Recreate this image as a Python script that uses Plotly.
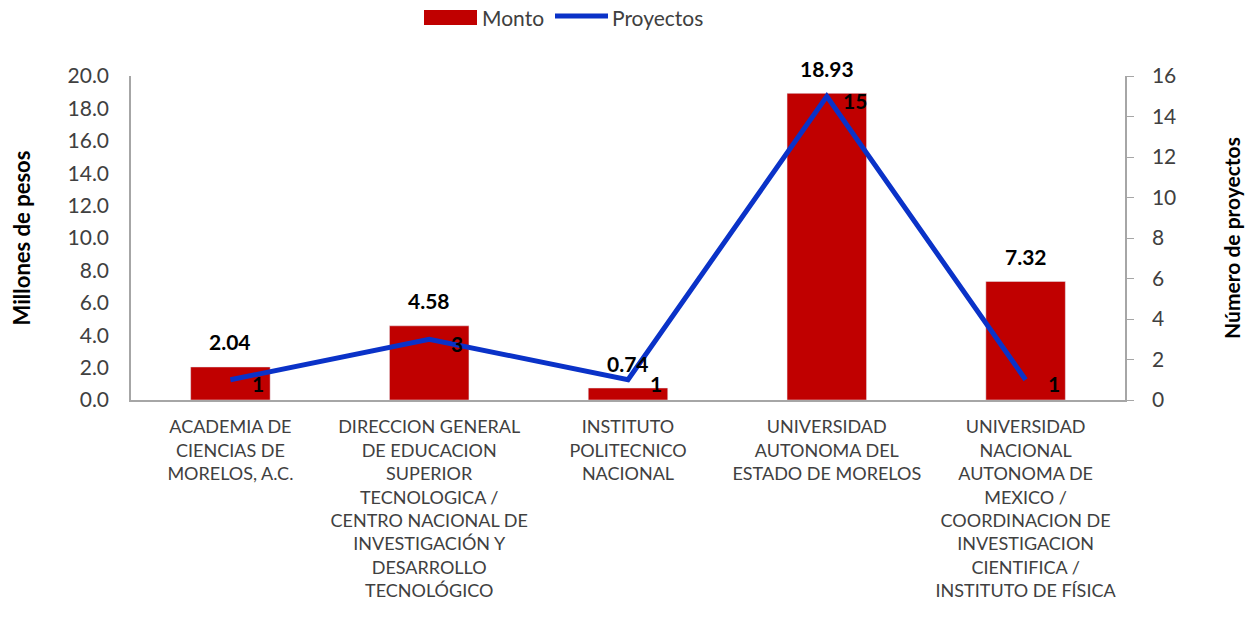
import plotly.graph_objects as go

categories = [
    "ACADEMIA DE<br>CIENCIAS DE<br>MORELOS, A.C.",
    "DIRECCION GENERAL<br>DE EDUCACION<br>SUPERIOR<br>TECNOLOGICA /<br>CENTRO NACIONAL DE<br>INVESTIGACIÓN Y<br>DESARROLLO<br>TECNOLÓGICO",
    "INSTITUTO<br>POLITECNICO<br>NACIONAL",
    "UNIVERSIDAD<br>AUTONOMA DEL<br>ESTADO DE MORELOS",
    "UNIVERSIDAD<br>NACIONAL<br>AUTONOMA DE<br>MEXICO /<br>COORDINACION DE<br>INVESTIGACION<br>CIENTIFICA /<br>INSTITUTO DE FÍSICA",
]
monto = [2.04, 4.58, 0.74, 18.93, 7.32]
proyectos = [1, 3, 1, 15, 1]
left_ticks = [0, 2, 4, 6, 8, 10, 12, 14, 16, 18, 20]
right_ticks = [0, 2, 4, 6, 8, 10, 12, 14, 16]

FONT = "Lato"
BAR_COLOR = "#C00000"
LINE_COLOR = "#0A32C8"
TXT = "#404040"

fig = go.Figure()
fig.add_trace(go.Bar(
    x=categories, y=monto, name="Monto", marker_color=BAR_COLOR,
    width=0.4, yaxis="y", showlegend=False,
))
fig.add_trace(go.Scatter(
    x=categories, y=proyectos, name="Proyectos", yaxis="y2",
    mode="lines", line=dict(color=LINE_COLOR, width=5), showlegend=False,
))
for c, v in zip(categories, monto):
    fig.add_annotation(
        x=c, y=v, yref="y", text=f"<b>{v:.2f}</b>", showarrow=False,
        yshift=25, font=dict(family=FONT, size=21, color="black"),
    )
for c, v in zip(categories, proyectos):
    fig.add_annotation(
        x=c, y=v, yref="y2", text=f"<b>{v}</b>", showarrow=False,
        xshift=28, yshift=-4, font=dict(family=FONT, size=21, color="black"),
    )

W, H = 1249, 622
ML, MR, MT, MB = 131, 124, 76, 222
pw, ph = W - ML - MR, H - MT - MB
def px(x):
    return (x - ML) / pw
def py(y):
    return (H - MB - y) / ph

fig.add_shape(type="rect", xref="paper", yref="paper",
              x0=px(424), x1=px(477), y0=py(25), y1=py(10),
              fillcolor=BAR_COLOR, line=dict(width=0))
fig.add_annotation(xref="paper", yref="paper", x=px(480), y=py(17),
                   xanchor="left", yanchor="middle", text="Monto", showarrow=False,
                   font=dict(family=FONT, size=21, color=TXT))
fig.add_shape(type="line", xref="paper", yref="paper",
              x0=px(555), x1=px(608), y0=py(16), y1=py(16),
              line=dict(color=LINE_COLOR, width=5))
fig.add_annotation(xref="paper", yref="paper", x=px(610), y=py(17),
                   xanchor="left", yanchor="middle", text="Proyectos", showarrow=False,
                   font=dict(family=FONT, size=21, color=TXT))

fig.update_layout(
    width=W, height=H,
    paper_bgcolor="white", plot_bgcolor="white",
    margin=dict(l=ML, r=MR, t=MT, b=MB, autoexpand=False),
    font=dict(family=FONT, size=18, color=TXT),
    showlegend=False,
    xaxis=dict(showline=True, linecolor="#A6A6A6", linewidth=1.5,
               tickfont=dict(family=FONT, size=18, color=TXT),
               ticks="", tickangle=0, ticklabelstandoff=10),
    yaxis=dict(range=[0, 20], tickvals=left_ticks,
               ticktext=[f"{t:.1f}" for t in left_ticks],
               showgrid=False, zeroline=False, showline=True,
               linecolor="#A6A6A6", linewidth=1.5, ticks="",
               ticklabelstandoff=16,
               tickfont=dict(family=FONT, size=21, color=TXT),
               title=dict(text="<b>Millones de pesos</b>", standoff=31,
                          font=dict(family=FONT, size=22, color="black"))),
    yaxis2=dict(range=[0, 16], tickvals=right_ticks, overlaying="y", side="right",
                showgrid=False, zeroline=False, showline=True,
                linecolor="#A6A6A6", linewidth=1.5, ticks="outside", ticklen=7,
                tickcolor="#A6A6A6", ticklabelstandoff=14,
                tickfont=dict(family=FONT, size=21, color=TXT),
                title=dict(text="<b>Número de proyectos</b>", standoff=50,
                           font=dict(family=FONT, size=21, color="black"))),
)
fig.write_html("out.html", config={"displayModeBar": False},
               post_script="document.body.style.margin='0';document.body.style.overflow='hidden';")
